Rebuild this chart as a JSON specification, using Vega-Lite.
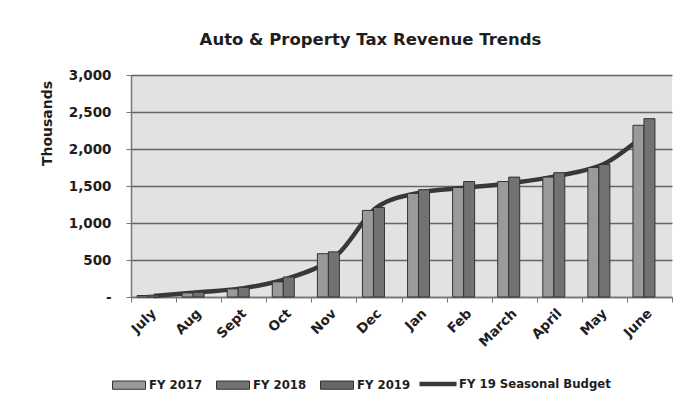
{
  "$schema": "https://vega.github.io/schema/vega-lite/v6.json",
  "width": 541,
  "height": 222,
  "autosize": {"type": "none"},
  "padding": {"left": 131, "top": 75, "right": 27, "bottom": 118},
  "background": "white",
  "config": {
    "view": {"fill": "#e2e2e2", "stroke": null},
    "font": "DejaVu Sans"
  },
  "title": {
    "text": "Auto & Property Tax Revenue Trends",
    "anchor": "middle",
    "frame": "group",
    "dx": -31,
    "offset": 20,
    "font": "DejaVu Sans",
    "fontSize": 16.5,
    "fontWeight": "bold",
    "color": "#1e1e1e"
  },
  "datasets": {
    "actuals": [
      {"month": "July", "series": "FY 2017", "value": 20},
      {"month": "July", "series": "FY 2018", "value": 25},
      {"month": "Aug", "series": "FY 2017", "value": 55},
      {"month": "Aug", "series": "FY 2018", "value": 65},
      {"month": "Sept", "series": "FY 2017", "value": 110},
      {"month": "Sept", "series": "FY 2018", "value": 130},
      {"month": "Oct", "series": "FY 2017", "value": 205},
      {"month": "Oct", "series": "FY 2018", "value": 270},
      {"month": "Nov", "series": "FY 2017", "value": 585},
      {"month": "Nov", "series": "FY 2018", "value": 610},
      {"month": "Dec", "series": "FY 2017", "value": 1170},
      {"month": "Dec", "series": "FY 2018", "value": 1210},
      {"month": "Jan", "series": "FY 2017", "value": 1400},
      {"month": "Jan", "series": "FY 2018", "value": 1450},
      {"month": "Feb", "series": "FY 2017", "value": 1480},
      {"month": "Feb", "series": "FY 2018", "value": 1560},
      {"month": "March", "series": "FY 2017", "value": 1560},
      {"month": "March", "series": "FY 2018", "value": 1620},
      {"month": "April", "series": "FY 2017", "value": 1620},
      {"month": "April", "series": "FY 2018", "value": 1680},
      {"month": "May", "series": "FY 2017", "value": 1750},
      {"month": "May", "series": "FY 2018", "value": 1790},
      {"month": "June", "series": "FY 2017", "value": 2320},
      {"month": "June", "series": "FY 2018", "value": 2410}
    ],
    "budget": [
      {"month": "July", "value": 15},
      {"month": "Aug", "value": 65},
      {"month": "Sept", "value": 120},
      {"month": "Oct", "value": 255},
      {"month": "Nov", "value": 530},
      {"month": "Dec", "value": 1230},
      {"month": "Jan", "value": 1420},
      {"month": "Feb", "value": 1480},
      {"month": "March", "value": 1545},
      {"month": "April", "value": 1640},
      {"month": "May", "value": 1800},
      {"month": "June", "value": 2250}
    ]
  },
  "encoding": {
    "x": {
      "field": "month",
      "type": "nominal",
      "sort": null,
      "scale": {
        "domain": ["July", "Aug", "Sept", "Oct", "Nov", "Dec", "Jan", "Feb", "March", "April", "May", "June"],
        "paddingInner": 0,
        "paddingOuter": 0
      },
      "axis": {
        "title": null,
        "labelAngle": -45,
        "labelAlign": "right",
        "labelBaseline": "middle",
        "labelPadding": 9,
        "labelFont": "DejaVu Sans",
        "labelFontSize": 13.5,
        "labelFontWeight": "bold",
        "labelColor": "#1e1e1e",
        "tickBand": "extent",
        "tickSize": 5,
        "tickColor": "#777777",
        "domainColor": "#777777",
        "domainWidth": 1.5,
        "grid": false
      }
    },
    "y": {
      "field": "value",
      "type": "quantitative",
      "scale": {"domain": [0, 3000], "nice": false},
      "axis": {
        "title": "Thousands",
        "values": [0, 500, 1000, 1500, 2000, 2500, 3000],
        "labelExpr": "datum.value == 0 ? '-' : format(datum.value, ',')",
        "grid": true,
        "gridColor": "#666666",
        "gridWidth": 1.5,
        "domainColor": "#777777",
        "domainWidth": 1.5,
        "tickColor": "#777777",
        "tickSize": 5,
        "labelPadding": 15,
        "labelFont": "DejaVu Sans",
        "labelFontSize": 13.5,
        "labelFontWeight": "bold",
        "labelColor": "#1e1e1e",
        "titleFont": "DejaVu Sans",
        "titleFontSize": 14,
        "titleFontWeight": "bold",
        "titleColor": "#1e1e1e",
        "titleAngle": -90,
        "titleX": -84,
        "titleY": 48,
        "titleAlign": "center",
        "titleBaseline": "middle"
      }
    }
  },
  "layer": [
    {
      "data": {"name": "budget"},
      "mark": {"type": "line", "strokeWidth": 4.5, "interpolate": "catmull-rom"},
      "encoding": {
        "stroke": {
          "datum": "FY 19 Seasonal Budget",
          "scale": {"range": ["#383838"]},
          "legend": {
            "orient": "none",
            "legendX": 286,
            "legendY": 288,
            "title": null,
            "padding": 0,
            "symbolType": "stroke",
            "symbolSize": 1369,
            "symbolStrokeWidth": 4.5,
            "labelOffset": 0,
            "labelFont": "DejaVu Sans",
            "labelFontSize": 11.7,
            "labelFontWeight": "bold",
            "labelColor": "#1e1e1e"
          }
        }
      }
    },
    {
      "data": {"name": "actuals"},
      "mark": {"type": "bar", "stroke": "#333333", "strokeWidth": 1},
      "encoding": {
        "xOffset": {
          "field": "series",
          "type": "nominal",
          "scale": {"domain": ["FY 2017", "FY 2018", "FY 2019"], "paddingInner": 0, "paddingOuter": 0.55}
        },
        "color": {
          "field": "series",
          "type": "nominal",
          "scale": {"domain": ["FY 2017", "FY 2018", "FY 2019"], "range": ["#9a9a9a", "#727272", "#666666"]},
          "legend": {
            "orient": "none",
            "legendX": -19,
            "legendY": 293,
            "direction": "horizontal",
            "title": null,
            "padding": 0,
            "symbolType": "M-1,-0.25H1V0.25H-1Z",
            "symbolSize": 1089,
            "symbolStrokeColor": "#333333",
            "symbolStrokeWidth": 1,
            "labelOffset": 3,
            "columnPadding": 11,
            "labelFont": "DejaVu Sans",
            "labelFontSize": 11.7,
            "labelFontWeight": "bold",
            "labelColor": "#1e1e1e"
          }
        }
      }
    }
  ]
}
